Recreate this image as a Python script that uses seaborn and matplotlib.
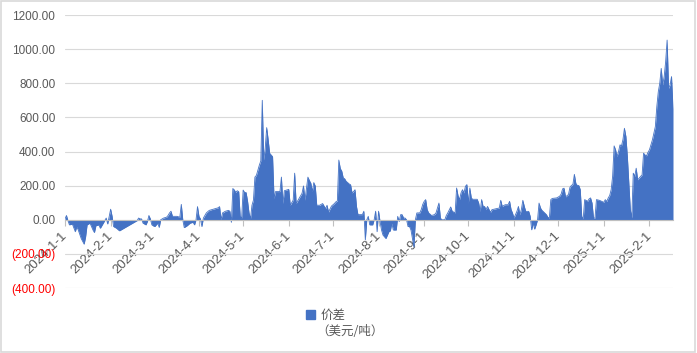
import numpy as np
import pandas as pd
import matplotlib
matplotlib.use("Agg")
import matplotlib.pyplot as plt
import seaborn as sns
from matplotlib.patches import Patch, Rectangle

# ---------------- data ----------------
start_date = "2024-01-01"
end_date = "2025-02-17"
day_offsets = [
    0, 1, 2, 3, 5, 7, 8, 9, 11, 13, 14, 15, 17, 19, 20, 21, 23, 24, 26, 28,
    29, 31, 32, 33, 35, 37, 38, 49, 50, 51, 52, 53, 55, 56, 57, 58, 59, 61, 63, 64,
    65, 67, 69, 70, 71, 72, 73, 76, 78, 79, 80, 81, 83, 85, 87, 88, 89, 90, 91, 92,
    93, 94, 96, 98, 100, 102, 104, 105, 106, 107, 109, 111, 112, 113, 114, 115, 116, 117, 118, 119,
    120, 121, 122, 123, 124, 125, 126, 127, 128, 129, 130, 131, 132, 133, 134, 135, 136, 137, 138, 139,
    140, 141, 142, 143, 146, 147, 148, 149, 152, 153, 155, 156, 157, 159, 161, 162, 163, 165, 166, 167,
    168, 169, 170, 171, 173, 175, 177, 178, 179, 181, 183, 184, 185, 186, 187, 188, 189, 190, 191, 192,
    193, 194, 195, 196, 197, 198, 199, 202, 203, 204, 205, 206, 207, 209, 210, 211, 212, 213, 214, 215,
    216, 218, 219, 220, 221, 222, 223, 225, 226, 227, 228, 229, 230, 231, 232, 233, 234, 235, 237, 238,
    239, 241, 242, 243, 244, 245, 246, 247, 249, 251, 252, 254, 255, 256, 258, 259, 260, 262, 263, 265,
    266, 267, 268, 269, 270, 271, 272, 273, 274, 275, 276, 277, 280, 281, 282, 283, 284, 285, 286, 287,
    289, 290, 293, 295, 296, 297, 299, 301, 302, 303, 304, 305, 306, 307, 308, 309, 310, 311, 312, 313,
    315, 316, 317, 318, 319, 320, 321, 322, 323, 324, 327, 328, 329, 330, 331, 334, 336, 337, 338, 339,
    340, 342, 343, 344, 345, 346, 347, 348, 349, 350, 351, 352, 353, 355, 356, 357, 358, 359, 360, 361,
    363, 366, 367, 368, 369, 370, 371, 372, 373, 374, 375, 376, 377, 378, 379, 380, 381, 382, 383, 384,
    385, 386, 387, 388, 389, 390, 391, 392, 393, 394, 395, 396, 397, 398, 399, 400, 401, 402, 403, 404,
    405, 406, 407, 408, 409, 410, 411, 412, 413,
]
spread = [
    5, 25, -5, -30, -25, -70, -40, -60, -110, -143, -100, -30, -20, -60, -75, -35, -30, -50, -20, 10,
    -25, 62, 20, -40, -50, -65, -60, -5, 10, 5, 5, -20, -30, -10, 25, 5, -30, -40, -20, -45,
    0, 10, 15, 25, 40, 50, 20, 20, 15, 90, 0, -46, -35, -20, -15, -30, 0, 77, 20, 5,
    -40, 10, 40, 55, 60, 65, 70, 77, 0, 40, 50, 55, 50, -15, 183, 175, 160, 170, 165, 20,
    10, 174, 160, 160, 110, 40, 5, 85, 115, 250, 260, 290, 320, 345, 700, 350, 420, 540, 470, 390,
    380, 370, 125, 165, 165, 250, 95, 170, 178, 85, 115, 273, 95, 125, 155, 198, 115, 250, 230, 214,
    164, 218, 198, 85, 85, 95, 65, 85, 45, 80, 95, 105, 110, 350, 300, 285, 245, 240, 225, 218,
    210, 205, 157, 165, 176, 78, 30, 30, 50, -118, 0, 20, -30, -30, 0, 50, -70, 50, -10, -60,
    -90, -110, -90, -70, -65, -20, -60, -60, 20, -10, 30, 30, 10, 10, 0, -40, -40, -60, -160, 0,
    40, 40, 60, 90, 108, 118, 60, 40, 25, 30, 40, 98, 10, 0, 0, 25, 40, 75, 50, 40,
    186, 140, 118, 157, 176, 157, 196, 206, 98, 186, 127, 120, 120, 98, 49, 118, 78, 78, 59, 78,
    43, 59, 65, 69, 114, 78, 88, 88, 108, 60, 39, 10, 30, 50, 78, 29, 60, 114, 78, 49,
    49, 20, -59, -20, -55, -30, 0, 98, 69, 55, 30, 15, 10, 118, 125, 128, 138, 150, 181, 185,
    134, 148, 190, 201, 207, 266, 213, 201, 201, 177, 20, 5, 118, 108, 122, 128, 98, 10, 10, 118,
    114, 102, 118, 107, 128, 142, 177, 256, 433, 410, 370, 400, 439, 433, 470, 536, 488, 370, 215, 60,
    10, 273, 254, 302, 234, 244, 254, 263, 390, 380, 374, 395, 410, 440, 468, 507, 546, 663, 750, 800,
    887, 790, 839, 926, 1053, 770, 790, 839, 650,
]
y_ticks = [-400, -200, 0, 200, 400, 600, 800, 1000, 1200]
series_name = "价差"
unit_label = "（美元/吨）"

# ---------------- style ----------------
sns.set_theme(style="white")
plt.rcParams["font.family"] = ["Liberation Sans", "Noto Sans CJK SC", "DejaVu Sans"]

fill_color = "#4472c4"
text_gray = "#595959"
grid_gray = "#d9d9d9"
axis_gray = "#bfbfbf"

W, H = 697, 353
fig = plt.figure(figsize=(W / 100, H / 100), dpi=100)
ax = fig.add_axes([65 / W, 1 - 288 / H, (673 - 65) / W, (288 - 15) / H])

dates = pd.Timestamp(start_date) + pd.to_timedelta(day_offsets, unit="D")
df = pd.DataFrame({"date": dates, "value": spread})

ax.fill_between(df["date"], df["value"], 0, color=fill_color, linewidth=0, zorder=3)
sns.lineplot(data=df, x="date", y="value", ax=ax, color=fill_color, linewidth=0.6, zorder=3)

# spines first (moving a spine resets tick properties)
ax.spines["bottom"].set_position(("data", 0))
ax.spines["bottom"].set_color(axis_gray)
ax.spines["bottom"].set_linewidth(0.8)
ax.spines["bottom"].set_zorder(4)
for s in ["left", "right", "top"]:
    ax.spines[s].set_visible(False)

ax.set_xlim(pd.Timestamp(start_date), pd.Timestamp(end_date))
ax.set_ylim(y_ticks[0], y_ticks[-1])

# y axis
ax.set_yticks(y_ticks)
ylabels = [f"{v:.2f}" if v >= 0 else f"({abs(v):.2f})" for v in y_ticks]
ax.set_yticklabels(ylabels, fontsize=8.5)
for lab, v in zip(ax.get_yticklabels(), y_ticks):
    lab.set_color("#ff0000" if v < 0 else text_gray)
ax.tick_params(axis="y", length=0, pad=7)
ax.yaxis.grid(True, color=grid_gray, linewidth=0.8, zorder=0)
ax.set_axisbelow(True)

# x axis: month starts, drawn on zero line
month_ticks = pd.date_range(start_date, end_date, freq="MS")
ax.set_xticks(month_ticks)
ax.set_xticklabels([f"{d.year}-{d.month}-{d.day}" for d in month_ticks],
                   rotation=45, ha="right", va="center", rotation_mode="anchor",
                   color=text_gray, fontsize=9.5)
ax.tick_params(axis="x", length=4, width=0.8, color=axis_gray, direction="out", pad=6, bottom=True)
ax.set_xlabel("")
ax.set_ylabel("")

# legend
handle = Patch(facecolor=fill_color, edgecolor=fill_color)
leg = fig.legend(handles=[handle], labels=[series_name], loc="center left",
                 bbox_to_anchor=(306 / W, 1 - 315 / H), bbox_transform=fig.transFigure,
                 frameon=False, borderpad=0, borderaxespad=0, handlelength=0.7,
                 handleheight=0.7, handletextpad=0.5,
                 prop={"family": ["Noto Sans CJK SC"], "size": 9})
for t in leg.get_texts():
    t.set_color(text_gray)
fig.text(316 / W, 1 - 331.5 / H, unit_label, ha="left", va="center", fontsize=9,
         color=text_gray, family=["Noto Sans CJK SC"])

# outer border
fig.add_artist(Rectangle((0.001, 0.002), 0.996, 0.995, transform=fig.transFigure,
                         fill=False, edgecolor=grid_gray, linewidth=1.2))

fig.savefig("out.png", dpi=100)
